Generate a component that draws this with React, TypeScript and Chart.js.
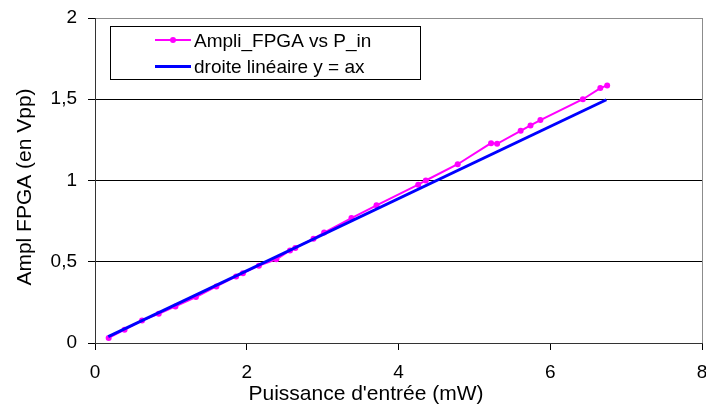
import React, { useEffect, useRef } from "react";
import { Chart, registerables } from "chart.js";

Chart.register(...registerables);

// Measured series: input power (mW) vs FPGA amplitude (Vpp)
const inputPower = [0.18, 0.39, 0.62, 0.84, 1.06, 1.33, 1.6, 1.86, 1.95, 2.16, 2.39, 2.57, 2.64, 2.88, 3.02, 3.38, 3.71, 4.26, 4.36, 4.78, 5.22, 5.3, 5.61, 5.74, 5.87, 6.43, 6.66, 6.75];
const fpgaAmplitude = [0.031, 0.082, 0.139, 0.18, 0.225, 0.283, 0.348, 0.41, 0.43, 0.476, 0.515, 0.57, 0.585, 0.642, 0.68, 0.769, 0.847, 0.974, 1.0, 1.1, 1.23, 1.226, 1.306, 1.339, 1.372, 1.5, 1.569, 1.585];

// Linear reference line y = a x (end points)
const linearX = [0.175, 6.74];
const linearY = [0.039, 1.497];

const seriesLabels = ["Ampli_FPGA vs P_in", "droite linéaire y = ax"];
const seriesColors = ["#FF00FF", "#0000FF"];
const xTitle = "Puissance d'entrée (mW)";
const yTitle = "Ampl FPGA (en Vpp)";
const xMin = 0, xMax = 8, xStep = 2;
const yMin = 0, yMax = 2, yStep = 0.5;

const FONT = "'Liberation Sans', Arial, sans-serif";

const boxLegend = {
  id: "boxLegend",
  afterDraw(chart: any) {
    const ctx = chart.ctx;
    const ds = chart.data.datasets;
    ctx.save();
    const bx = 110.5, by = 26.5, bw = 310, bh = 53;
    ctx.fillStyle = "#ffffff";
    ctx.fillRect(bx, by, bw, bh);
    ctx.strokeStyle = "#000000";
    ctx.lineWidth = 1;
    ctx.strokeRect(bx, by, bw, bh);
    const rows = [40, 66.5];
    ds.forEach((d: any, i: number) => {
      const y = rows[i];
      ctx.strokeStyle = d.borderColor;
      ctx.lineWidth = d.borderWidth;
      ctx.beginPath();
      ctx.moveTo(155, y);
      ctx.lineTo(191, y);
      ctx.stroke();
      if (d.pointRadius > 0) {
        ctx.fillStyle = d.pointBackgroundColor;
        ctx.beginPath();
        ctx.arc(173, y, d.pointRadius, 0, Math.PI * 2);
        ctx.fill();
      }
      ctx.fillStyle = "#000000";
      ctx.font = `19px ${FONT}`;
      ctx.textBaseline = "alphabetic";
      ctx.textAlign = "left";
      ctx.fillText(d.label, 194, y + 6.8);
    });
    ctx.restore();
  },
};

const axisTitles = {
  id: "axisTitles",
  afterDraw(chart: any) {
    const ctx = chart.ctx;
    ctx.save();
    ctx.fillStyle = "#000000";
    ctx.font = `21px ${FONT}`;
    ctx.textAlign = "center";
    ctx.textBaseline = "alphabetic";
    ctx.fillText(xTitle, 366, 399.5);
    ctx.translate(31, 187);
    ctx.rotate(-Math.PI / 2);
    ctx.fillText(yTitle, 0, 0);
    ctx.restore();
  },
};

const fmt = (v: number | string) => String(v).replace(".", ",");

export default function App() {
  const ref = useRef<HTMLCanvasElement>(null);

  useEffect(() => {
    if (!ref.current) return;
    const measured = inputPower.map((x, i) => ({ x, y: fpgaAmplitude[i] }));
    const linear = linearX.map((x, i) => ({ x, y: linearY[i] }));
    const chart = new Chart(ref.current, {
      type: "scatter",
      data: {
        datasets: [
          {
            label: seriesLabels[0],
            data: measured,
            showLine: true,
            borderColor: seriesColors[0],
            backgroundColor: seriesColors[0],
            borderWidth: 2,
            pointRadius: 3,
            pointBackgroundColor: seriesColors[0],
            pointBorderWidth: 0,
            order: 1,
          },
          {
            label: seriesLabels[1],
            data: linear,
            showLine: true,
            borderColor: seriesColors[1],
            backgroundColor: seriesColors[1],
            borderWidth: 3,
            pointRadius: 0,
            order: 0,
          },
        ] as any,
      },
      options: {
        animation: false,
        responsive: false,
        devicePixelRatio: 1,
        layout: { padding: { top: 18, right: 4, left: 0, bottom: 0 } },
        plugins: {
          legend: { display: false },
          tooltip: { enabled: false },
        },
        scales: {
          x: {
            type: "linear",
            min: xMin,
            max: xMax,
            ticks: {
              stepSize: xStep,
              color: "#000",
              font: { family: FONT, size: 19 },
              padding: 11,
              maxRotation: 0,
              callback: (v: any) => fmt(v),
            },
            grid: {
              drawOnChartArea: true,
              color: (c: any) => (c.tick && c.tick.value === xMax ? "#8c8c8c" : "rgba(0,0,0,0)"),
              tickColor: "#000",
              tickLength: 7,
              lineWidth: 1,
            },
            border: { color: "#333", width: 1 },
            title: { display: false },
            afterFit: (s: any) => {
              s.height = 65;
              s.paddingLeft = 0;
              s.paddingRight = 0;
            },
          },
          y: {
            type: "linear",
            min: yMin,
            max: yMax,
            ticks: {
              stepSize: yStep,
              color: "#000",
              font: { family: FONT, size: 19 },
              padding: 11,
              callback: (v: any) => fmt(v),
            },
            grid: {
              drawOnChartArea: true,
              color: (c: any) =>
                c.tick && c.tick.value === yMax
                  ? "#8c8c8c"
                  : c.tick && c.tick.value === yMin
                  ? "rgba(0,0,0,0)"
                  : "#000",
              tickColor: "#000",
              tickLength: 7,
              lineWidth: 1,
            },
            border: { color: "#333", width: 1 },
            title: { display: false },
            afterFit: (s: any) => {
              s.width = 95;
              s.paddingTop = 0;
              s.paddingBottom = 0;
            },
          },
        },
      } as any,
      plugins: [boxLegend, axisTitles],
    });
    return () => chart.destroy();
  }, []);

  return (
    <div style={{ position: "fixed", left: 0, top: 0, width: 706, height: 408, background: "#fff" }}>
      <canvas ref={ref} width={706} height={408} style={{ display: "block" }} />
    </div>
  );
}
